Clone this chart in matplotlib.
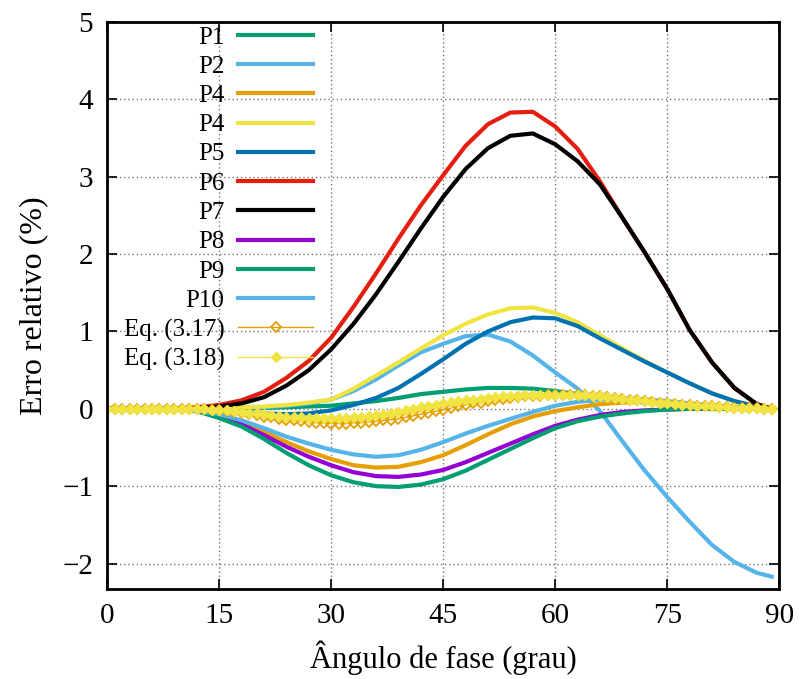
import numpy as np
import matplotlib
matplotlib.use("Agg")
import matplotlib.pyplot as plt

plt.rcParams['font.family'] = ['Liberation Serif', 'DejaVu Serif']
plt.rcParams['mathtext.fontset'] = 'stix'

# phase angle (degrees) for the P curves
angle = [0, 3, 6, 9, 12, 15, 18, 21, 24, 27, 30, 33, 36, 39, 42, 45, 48, 51,
         54, 57, 60, 63, 66, 69, 72, 75, 78, 81, 84, 87, 89]

p1 = [0, 0, 0, 0, 0, 0, 0.005, 0.01, 0.02, 0.03, 0.04, 0.07, 0.1, 0.14, 0.19, 0.22,
      0.25, 0.27, 0.27, 0.26, 0.23, 0.19, 0.15, 0.11, 0.08, 0.06, 0.04, 0.02, 0.01, 0.003, 0]
p2 = [0, 0, 0, 0, 0, 0.01, 0.015, 0.02, 0.04, 0.07, 0.12, 0.23, 0.38, 0.56, 0.73, 0.84,
      0.94, 0.96, 0.87, 0.69, 0.47, 0.26, -0.03, -0.42, -0.8, -1.14, -1.46, -1.76, -1.98, -2.12, -2.17]
p4a = [0, 0, 0, 0, -0.02, -0.09, -0.18, -0.3, -0.43, -0.55, -0.65, -0.73, -0.76, -0.75, -0.69, -0.6,
       -0.47, -0.33, -0.2, -0.1, -0.03, 0.02, 0.06, 0.08, 0.09, 0.08, 0.06, 0.04, 0.02, 0.01, 0]
p4b = [0, 0, 0, 0, 0, 0.01, 0.02, 0.03, 0.05, 0.08, 0.12, 0.26, 0.43, 0.6, 0.78, 0.95,
       1.1, 1.22, 1.3, 1.31, 1.24, 1.12, 0.95, 0.78, 0.62, 0.47, 0.33, 0.2, 0.1, 0.03, 0]
p5 = [0, 0, 0, 0, 0, -0.02, -0.04, -0.06, -0.07, -0.06, -0.02, 0.05, 0.14, 0.27, 0.45, 0.64,
      0.84, 1.0, 1.12, 1.18, 1.17, 1.07, 0.91, 0.76, 0.61, 0.47, 0.33, 0.2, 0.1, 0.03, 0]
p6 = [0, 0, 0, 0.005, 0.02, 0.05, 0.11, 0.22, 0.4, 0.62, 0.92, 1.32, 1.75, 2.2, 2.63, 3.02,
      3.4, 3.68, 3.83, 3.84, 3.65, 3.36, 2.94, 2.47, 2.02, 1.55, 1.02, 0.6, 0.27, 0.06, 0]
p7 = [0, 0, 0, 0, 0.01, 0.03, 0.07, 0.15, 0.3, 0.5, 0.77, 1.1, 1.48, 1.9, 2.33, 2.74,
      3.1, 3.37, 3.53, 3.56, 3.42, 3.2, 2.9, 2.47, 2.02, 1.55, 1.02, 0.6, 0.27, 0.06, 0]
p8 = [0, 0, 0, 0, -0.02, -0.1, -0.2, -0.34, -0.49, -0.62, -0.73, -0.82, -0.87, -0.88, -0.85, -0.79,
      -0.69, -0.57, -0.45, -0.33, -0.22, -0.14, -0.08, -0.04, -0.02, -0.01, 0, 0, 0, 0, 0]
p9 = [0, 0, 0, 0, -0.03, -0.12, -0.23, -0.39, -0.57, -0.73, -0.86, -0.95, -1.0, -1.01, -0.98, -0.91,
      -0.8, -0.66, -0.52, -0.38, -0.25, -0.16, -0.1, -0.06, -0.03, -0.01, 0, 0, 0, 0, 0]
p10 = [0, 0, 0, 0, -0.02, -0.07, -0.15, -0.25, -0.36, -0.45, -0.53, -0.59, -0.62, -0.6, -0.53, -0.43,
       -0.32, -0.22, -0.13, -0.04, 0.04, 0.09, 0.12, 0.13, 0.12, 0.1, 0.07, 0.04, 0.02, 0.01, 0]

# the two equations are sampled every degree (0..89)
angle_eq = list(range(90))
eq317 = [0] * 13 + [
    -0.005, -0.01, -0.02, -0.03, -0.04, -0.05, -0.07, -0.08, -0.1, -0.11,
    -0.13, -0.14, -0.15, -0.16, -0.17, -0.18, -0.18, -0.19, -0.19, -0.19,
    -0.18, -0.18, -0.17, -0.16, -0.15, -0.14, -0.13, -0.11, -0.09, -0.07,
    -0.05, -0.03, -0.01, 0.01, 0.03, 0.05, 0.07, 0.08, 0.1, 0.11,
    0.13, 0.14, 0.15, 0.16, 0.17, 0.17, 0.18, 0.18, 0.185, 0.185,
    0.18, 0.175, 0.17, 0.16, 0.15, 0.14, 0.13, 0.12, 0.11, 0.1,
    0.09, 0.08, 0.07, 0.06, 0.055, 0.05, 0.04, 0.035, 0.03, 0.025,
    0.02, 0.015, 0.01, 0.008, 0.005, 0.002, 0]
eq318 = [0] * 13 + [
    -0.005, -0.01, -0.015, -0.02, -0.03, -0.04, -0.05, -0.06, -0.07, -0.08,
    -0.09, -0.1, -0.105, -0.11, -0.115, -0.12, -0.12, -0.12, -0.12, -0.115,
    -0.11, -0.1, -0.09, -0.08, -0.065, -0.05, -0.035, -0.02, 0.0, 0.02,
    0.035, 0.05, 0.07, 0.085, 0.1, 0.11, 0.12, 0.13, 0.14, 0.15,
    0.16, 0.165, 0.17, 0.175, 0.18, 0.18, 0.185, 0.185, 0.185, 0.185,
    0.18, 0.175, 0.17, 0.16, 0.15, 0.14, 0.13, 0.12, 0.11, 0.1,
    0.09, 0.08, 0.07, 0.06, 0.055, 0.05, 0.04, 0.035, 0.03, 0.025,
    0.02, 0.015, 0.01, 0.008, 0.005, 0.002, 0]

curves = [
    ("P1", p1, "#009E73"),
    ("P2", p2, "#56B4E9"),
    ("P4", p4a, "#E69F00"),
    ("P4", p4b, "#F0E442"),
    ("P5", p5, "#0072B2"),
    ("P6", p6, "#E51E10"),
    ("P7", p7, "black"),
    ("P8", p8, "#9400D3"),
    ("P9", p9, "#009E73"),
    ("P10", p10, "#56B4E9"),
]

fig = plt.figure(figsize=(8, 6.79), dpi=100)
ax = fig.add_axes([0.134, 0.1325, 0.84, 0.835])

for label, y, color in curves:
    ax.plot(angle, y, color=color, lw=3.0, label=label, solid_joinstyle='round')

ax.plot(angle_eq, eq317, color="#E69F00", lw=1.0, marker='D', markersize=5.5,
        markerfacecolor='none', markeredgewidth=1.3, label="Eq. (3.17)")
ax.plot(angle_eq, eq318, color="#F0E442", lw=1.0, marker='D', markersize=5.5,
        label="Eq. (3.18)")

ax.set_xlim(0, 90)
ax.set_ylim(-2.33, 5)
ax.set_xticks(range(0, 91, 15))
ax.set_yticks(range(-2, 6))
ax.grid(True, color='#777777', linestyle=(0, (1, 2)), linewidth=1.0)
ax.tick_params(direction='in', length=7, width=1.2, top=True, right=True,
               labelsize=21, pad=10)
for s in ax.spines.values():
    s.set_linewidth(2.0)

ax.set_xlabel("Ângulo de fase (grau)", fontsize=22, labelpad=8)
ax.set_ylabel("Erro relativo (%)", fontsize=23, labelpad=10)

leg = ax.legend(loc='upper right', bbox_to_anchor=(313 / 800, 1 - 26 / 679),
                bbox_transform=fig.transFigure, frameon=False, markerfirst=False,
                fontsize=18, handlelength=3.0, handletextpad=0.55,
                labelspacing=0.27, borderpad=0, borderaxespad=0, numpoints=1)

fig.savefig("out.png", dpi=100)
